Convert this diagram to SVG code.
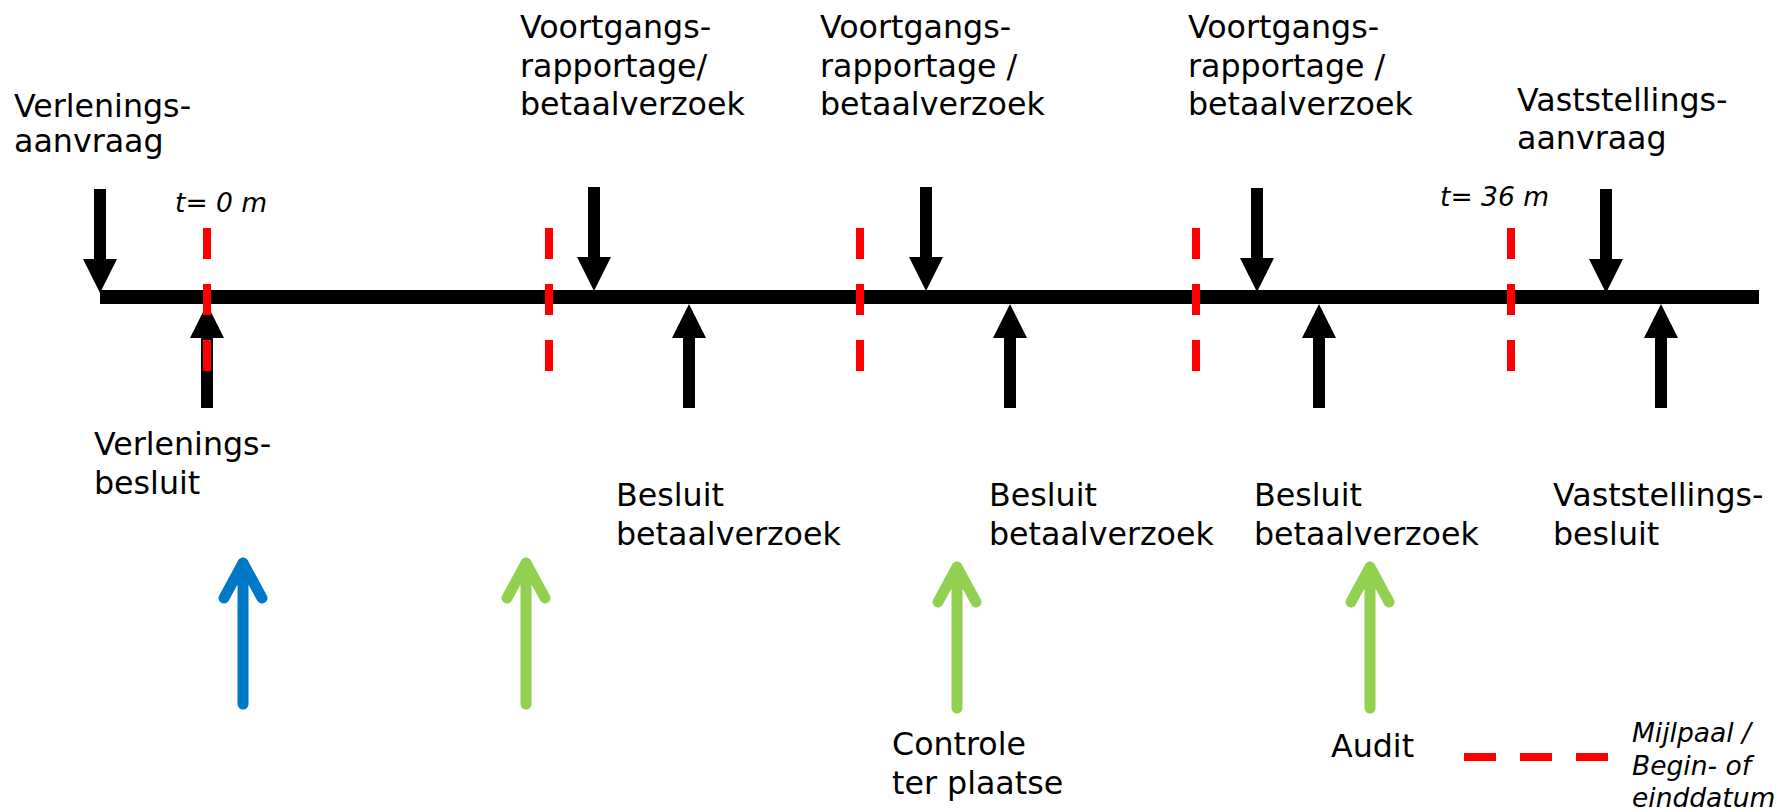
<svg xmlns="http://www.w3.org/2000/svg" width="1791" height="812" viewBox="0 0 1791 812">
<style>
text{font-family:"DejaVu Sans","Verdana",sans-serif;fill:#000}
.t{font-size:31.7px}
.i{font-size:26.5px;font-style:italic}
.blk{fill:#000}
.red{stroke:#ff0000;stroke-width:8;stroke-dasharray:31 25;fill:none}
.col{fill:none;stroke-width:11;stroke-linecap:round;stroke-linejoin:round}
</style>
<defs>
<path id="down" d="M-6,0 H6 V70 H17 L0,104 L-17,70 H-6 Z"/>
<path id="up" d="M0,0 L17,34 H6 V104 H-6 V34 H-17 Z"/>
</defs>
<rect width="1791" height="812" fill="#fff"/>
<g id="connectors">
<line id="timeline" x1="100" y1="297" x2="1759" y2="297" stroke="#000" stroke-width="14"/>
<use href="#down" x="100" y="189" class="blk"/>
<use href="#down" x="594" y="187" class="blk"/>
<use href="#down" x="926" y="187" class="blk"/>
<use href="#down" x="1257" y="188" class="blk"/>
<use href="#down" x="1606" y="189" class="blk"/>
<use href="#up" x="207" y="304" class="blk"/>
<use href="#up" x="689" y="304" class="blk"/>
<use href="#up" x="1010" y="304" class="blk"/>
<use href="#up" x="1319" y="304" class="blk"/>
<use href="#up" x="1661" y="304" class="blk"/>
<line class="red" x1="207" y1="228" x2="207" y2="372"/>
<line class="red" x1="549" y1="228" x2="549" y2="372"/>
<line class="red" x1="860" y1="228" x2="860" y2="372"/>
<line class="red" x1="1196" y1="228" x2="1196" y2="372"/>
<line class="red" x1="1511" y1="228" x2="1511" y2="372"/>
<path class="col" stroke="#0078c8" d="M243,704 V563 M224,598 L243,563 L262,598"/>
<path class="col" stroke="#92d050" d="M526,704 V563 M507,598 L526,563 L545,598"/>
<path class="col" stroke="#92d050" d="M957,708 V567 M938,602 L957,567 L976,602"/>
<path class="col" stroke="#92d050" d="M1370,708 V567 M1351,602 L1370,567 L1389,602"/>
</g>
<g id="n-verleningsaanvraag"><text class="t"><tspan x="14" y="117">Verlenings-</tspan><tspan x="14" y="152">aanvraag</tspan></text></g>
<g id="n-t0"><text class="i" x="175" y="212">t= 0 m</text></g>
<g id="n-voortgang1"><text class="t"><tspan x="520" y="38">Voortgangs-</tspan><tspan x="520" y="77">rapportage/</tspan><tspan x="520" y="115">betaalverzoek</tspan></text></g>
<g id="n-voortgang2"><text class="t"><tspan x="820" y="38">Voortgangs-</tspan><tspan x="820" y="77">rapportage /</tspan><tspan x="820" y="115">betaalverzoek</tspan></text></g>
<g id="n-voortgang3"><text class="t"><tspan x="1188" y="38">Voortgangs-</tspan><tspan x="1188" y="77">rapportage /</tspan><tspan x="1188" y="115">betaalverzoek</tspan></text></g>
<g id="n-vaststellingsaanvraag"><text class="t"><tspan x="1517" y="111">Vaststellings-</tspan><tspan x="1517" y="149">aanvraag</tspan></text></g>
<g id="n-t36"><text class="i" x="1440" y="206">t= 36 m</text></g>
<g id="n-verleningsbesluit"><text class="t"><tspan x="94" y="455">Verlenings-</tspan><tspan x="94" y="494">besluit</tspan></text></g>
<g id="n-besluit1"><text class="t"><tspan x="616" y="506">Besluit</tspan><tspan x="616" y="545">betaalverzoek</tspan></text></g>
<g id="n-besluit2"><text class="t"><tspan x="989" y="506">Besluit</tspan><tspan x="989" y="545">betaalverzoek</tspan></text></g>
<g id="n-besluit3"><text class="t"><tspan x="1254" y="506">Besluit</tspan><tspan x="1254" y="545">betaalverzoek</tspan></text></g>
<g id="n-vaststellingsbesluit"><text class="t"><tspan x="1553" y="506">Vaststellings-</tspan><tspan x="1553" y="545">besluit</tspan></text></g>
<g id="n-controle"><text class="t"><tspan x="892" y="755">Controle</tspan><tspan x="892" y="794">ter plaatse</tspan></text></g>
<g id="n-audit"><text class="t" x="1331" y="757">Audit</text></g>
<g id="legend">
<line class="red" x1="1464" y1="757" x2="1608" y2="757" style="stroke-dasharray:32 24"/>
<text class="i"><tspan x="1632" y="742">Mijlpaal /</tspan><tspan x="1632" y="775">Begin- of</tspan><tspan x="1632" y="807">einddatum</tspan></text>
</g>
</svg>
